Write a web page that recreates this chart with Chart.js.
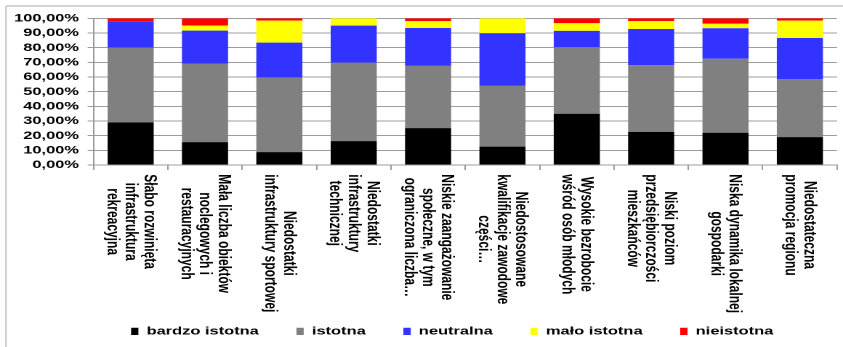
<!DOCTYPE html>
<html>
<head>
<meta charset="utf-8">
<script src="https://cdn.jsdelivr.net/npm/chart.js@4/dist/chart.umd.min.js"></script>
<style>
  html, body { margin: 0; padding: 0; background: #fff; overflow: hidden; }
  #chart { display: block; }
</style>
</head>
<body>
<!-- drawn on a narrower canvas and widened by CSS, giving the wide lettering of the original sheet -->
<canvas id="chart" width="580" height="347" style="width:843px;height:347px"></canvas>
<script>
// Category labels (each entry is a list of wrapped lines)
const categories = [
  ["Słabo rozwinięta", "infrastruktura", "rekreacyjna"],
  ["Mała liczba obiektów", "noclegowych i", "restauracyjnych"],
  ["Niedostatki", "infrastruktury sportowej"],
  ["Niedostatki", "infrastruktury", "technicznej"],
  ["Niskie zaangażowanie", "społeczne, w tym", "ograniczona liczba…"],
  ["Niedostosowane", "kwalifikacje zawodowe", "części…"],
  ["Wysokie bezrobocie", "wśród osób młodych"],
  ["Niski poziom", "przedsiębiorczości", "mieszkańców"],
  ["Niska dynamika lokalnej", "gospodarki"],
  ["Niedostateczna", "promocja regionu"]
];

// Share of answers per category (%)
const bardzoIstotna = [29.0, 15.6,  8.8, 16.3, 25.1, 12.5, 34.9, 22.6, 22.0, 19.0];
const istotna       = [51.0, 53.6, 50.7, 53.4, 42.5, 41.4, 45.4, 45.5, 50.4, 39.6];
const neutralna     = [18.0, 22.4, 23.9, 25.3, 25.8, 35.9, 11.1, 24.6, 20.8, 28.0];
const maloIstotna   = [ 0.0,  3.4, 15.0,  5.0,  4.8, 10.2,  5.2,  5.5,  3.1, 11.8];
const nieistotna    = [ 2.0,  5.0,  1.6,  0.0,  1.8,  0.0,  3.4,  1.8,  3.7,  1.6];

const seriesNames = ["bardzo istotna", "istotna", "neutralna", "mało istotna", "nieistotna"];
const yTickLabels = ["0,00%", "10,00%", "20,00%", "30,00%", "40,00%", "50,00%",
                     "60,00%", "70,00%", "80,00%", "90,00%", "100,00%"];

const FONT = '"Liberation Sans", Arial, sans-serif';
const GRID = '#9c9c9c';
Chart.defaults.font.family = FONT;
Chart.defaults.color = '#000';

const seriesValues = [bardzoIstotna, istotna, neutralna, maloIstotna, nieistotna];
const seriesColors = ['#000000', '#808080', '#3333ff', '#ffff00', '#ff0000'];

// Category labels, rotated a quarter turn clockwise and centred line by line
const LINE_H = 12.8;
const rotatedLabels = {
  id: 'rotatedLabels',
  afterDraw(chart) {
    const xs = chart.scales.x;
    const ctx = chart.ctx;
    ctx.save();
    ctx.font = 'bold 12px ' + FONT;
    ctx.fillStyle = '#000';
    ctx.textAlign = 'center';
    ctx.textBaseline = 'middle';
    const top = xs.top + 9.3;
    chart.data.labels.forEach((lines, i) => {
      const x = xs.getPixelForValue(i);
      const widest = Math.max(...lines.map(l => ctx.measureText(l).width));
      ctx.save();
      ctx.translate(x, top);
      ctx.rotate(Math.PI / 2);
      lines.forEach((line, k) => {
        ctx.fillText(line, widest / 2, (k - (lines.length - 1) / 2) * LINE_H);
      });
      ctx.restore();
    });
    ctx.restore();
  }
};

// Thin frame along the top and left edges
const frame = {
  id: 'frame',
  beforeDraw(chart) {
    const ctx = chart.ctx;
    ctx.save();
    ctx.strokeStyle = '#c4c4c4';
    ctx.lineWidth = 1.6;
    ctx.beginPath();
    ctx.moveTo(4.1, 6);
    ctx.lineTo(chart.width, 6);
    ctx.stroke();
    ctx.lineWidth = 1;
    ctx.beginPath();
    ctx.moveTo(4.1, 6);
    ctx.lineTo(4.1, chart.height);
    ctx.stroke();
    ctx.restore();
  }
};

new Chart(document.getElementById('chart'), {
  type: 'bar',
  data: {
    labels: categories,
    datasets: seriesNames.map((name, i) => ({
      label: name,
      data: seriesValues[i],
      backgroundColor: seriesColors[i],
      borderWidth: 0,
      barPercentage: 0.62,
      categoryPercentage: 1.0
    }))
  },
  options: {
    responsive: false,
    devicePixelRatio: 2,
    animation: false,
    events: [],
    layout: { padding: { left: 9.3, right: 4.1, top: 18.3, bottom: 0 } },
    plugins: {
      tooltip: { enabled: false },
      legend: {
        position: 'bottom',
        fullSize: false,
        align: 'start',
        labels: {
          font: { size: 11.3, weight: 'bold' },
          color: '#000',
          boxWidth: 5,
          boxHeight: 7.3,
          padding: 25.9
        }
      }
    },
    scales: {
      x: {
        stacked: true,
        afterFit(scale) { scale.height = 134.8; },
        ticks: { display: false },
        grid: {
          offset: true,
          drawOnChartArea: false,
          drawTicks: true,
          tickLength: 5,
          color: GRID,
          lineWidth: 1
        },
        border: { display: true, color: GRID, width: 1 }
      },
      y: {
        stacked: true,
        min: 0,
        max: 100,
        afterFit(scale) { scale.width = 55; },
        ticks: {
          stepSize: 10,
          autoSkip: false,
          padding: 6,
          font: { size: 11.3, weight: 'bold' },
          color: '#000',
          callback: (v, i) => yTickLabels[i]
        },
        grid: {
          color: GRID,
          lineWidth: 1,
          drawTicks: true,
          tickLength: 4
        },
        border: { display: true, color: GRID, width: 1 }
      }
    }
  },
  plugins: [frame, rotatedLabels]
});
</script>
</body>
</html>
